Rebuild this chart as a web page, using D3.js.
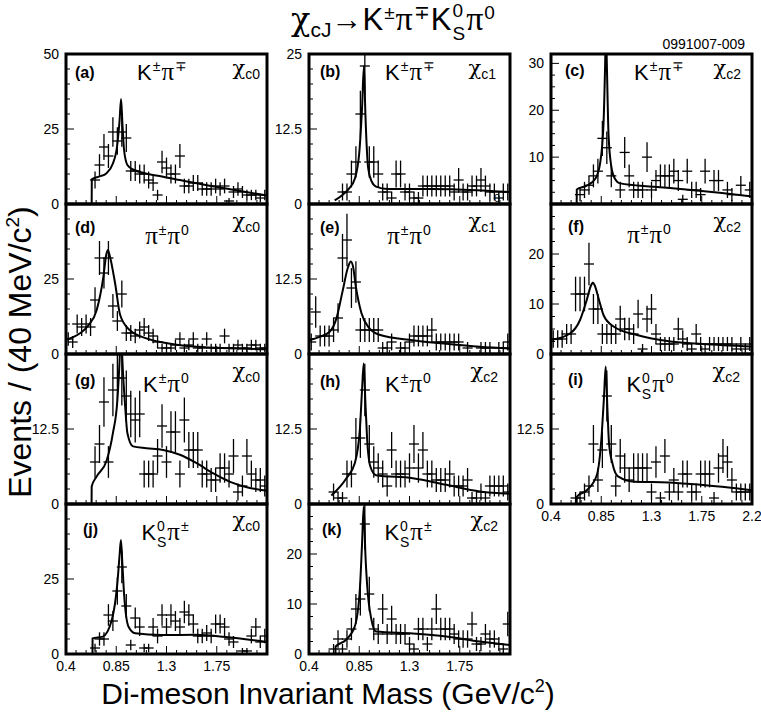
<!DOCTYPE html>
<html>
<head>
<meta charset="utf-8">
<script src="https://cdn.jsdelivr.net/npm/d3@7"></script>
<style>
  body { margin: 0; background: #fff; }
  svg { display: block; font-family: "Liberation Sans", Arial, Helvetica, sans-serif; }
</style>
</head>
<body>
<div id="figure-holder"></div>
<script>
// 40 MeV bin centres (GeV/c^2)
const binCenters = [0.42, 0.46, 0.50, 0.54, 0.58, 0.62, 0.66, 0.70, 0.74, 0.78,
  0.82, 0.86, 0.90, 0.94, 0.98, 1.02, 1.06, 1.10, 1.14, 1.18,
  1.22, 1.26, 1.30, 1.34, 1.38, 1.42, 1.46, 1.50, 1.54, 1.58,
  1.62, 1.66, 1.70, 1.74, 1.78, 1.82, 1.86, 1.90, 1.94, 1.98,
  2.02, 2.06, 2.10, 2.14, 2.18];

// events per bin
const countsA = [0,0,0,0,0,0,8,13,19,16, 24,21,24,22,11,11,10,10,8,7, 3,14,12,10,10,16,6,6,7,7, 5,5,5,6,5,6,1,4,5,4, 3,3,3,2,3];
const countsB = [0,0,0,0,0,0,0,2,2,5, 7,15,23,7,7,5,2,2,1,5, 5,2,2,1,1,3,3,3,3,3, 3,3,2,4,2,2,3,3,4,3, 2,2,1,2,2];
const countsC = [0,0,0,0,0,0,2,3,4,6, 7,14,12,6,0,3,11,6,3,3, 3,10,3,5,6,6,6,7,5,1, 7,3,3,2,7,0,5,5,0,3, 2,0,4,0,3];
const countsD = [5,4,10,9,10,9,18,32,27,32, 16,11,20,7,7,6,8,9,7,6, 4,2,2,2,3,5,2,3,5,2, 2,5,2,2,2,6,2,2,3,2, 2,3,3,2,2];
const countsE = [2,7,3,3,3,4,6,16,19,11, 12,4,4,4,4,4,1,1,2,0, 1,1,2,3,3,3,3,4,2,2, 2,2,2,2,0,1,0,0,1,1, 1,0,1,1,2];
const countsF = [3,3,3,4,4,12,12,12,18,9, 9,4,4,4,4,7,5,5,4,8, 1,7,9,4,2,2,2,2,5,3, 2,1,4,2,1,2,2,2,2,2, 2,1,2,1,2];
const countsG = [0,0,0,0,0,0,7,10,17,7, 19,21,21,18,15,14,15,5,5,5, 8,13,7,12,12,5,14,9,9,9, 5,5,4,4,6,6,5,8,2,3, 8,5,4,4,3];
const countsH = [0,0,0,0,0,2,1,1,5,5, 11,11,19,10,7,6,5,3,9,5, 5,5,6,10,6,9,5,5,4,4, 4,5,3,3,3,4,1,1,2,1, 3,3,3,3,2];
const countsI = [0,0,0,0,0,1,1,2,3,10, 4,9,18,10,3,8,6,4,6,6, 6,6,2,7,1,8,2,4,2,5, 5,2,2,5,5,5,1,6,8,7, 4,2,2,2,2];
const countsJ = [0,0,0,0,0,0,2,5,5,13, 11,21,29,16,3,12,9,2,2,9, 6,13,9,13,11,9,14,13,10,6, 6,7,6,10,10,9,5,4,0,1, 1,6,9,4,6];
const countsK = [0,0,0,0,0,1,3,1,3,5, 9,11,26,12,5,4,9,4,7,4, 4,4,2,1,5,5,2,5,9,5, 5,5,4,3,3,3,6,2,2,4, 3,3,2,1,6];

// fitted curves, [mass, events]
const fitA = [[0.63,0],[0.631,8.2],[0.70,9.2],[0.76,10.2],[0.82,13.5],[0.86,20],[0.88,28],[0.893,35],[0.905,27],[0.92,18],[0.95,13],[1.0,11.5],[1.27,9.1],[1.42,8],[1.57,6.9],[1.87,4.9],[2.2,2.8]];
const fitB = [[0.63,0.6],[0.70,1.5],[0.76,2.6],[0.81,4.2],[0.85,8.5],[0.875,16],[0.892,23],[0.905,15],[0.93,6],[0.96,3.8],[1.0,2.9],[1.1,2.5],[1.5,2.5],[1.9,2.3],[2.2,2.0]];
const fitC = [[0.63,0],[0.631,3.1],[0.72,3.9],[0.80,5.5],[0.84,8.7],[0.87,17],[0.885,30],[0.892,38],[0.90,30],[0.915,15],[0.94,8],[0.97,5.5],[1.02,4.4],[1.32,3.7],[1.61,3.1],[1.91,2.4],[2.2,1.6]];
const fitD = [[0.4,4.7],[0.525,6.9],[0.6,9.5],[0.675,14.7],[0.735,25.8],[0.76,33],[0.775,34.7],[0.79,33],[0.84,23.5],[0.885,13],[0.97,8],[1.12,5.2],[1.27,3.8],[1.57,2.4],[2.2,1.6]];
const fitE = [[0.4,2.3],[0.5,2.9],[0.585,3.7],[0.645,5.9],[0.7,10.4],[0.75,14.5],[0.775,15.4],[0.795,14.5],[0.82,11.2],[0.87,6.8],[0.94,4.3],[1.03,3.2],[1.33,2.3],[1.63,1.7],[1.93,1.2],[2.2,0.9]];
const fitF = [[0.4,2.8],[0.57,4.1],[0.66,6.8],[0.72,10.8],[0.76,13.8],[0.775,14.3],[0.79,13.8],[0.83,10.8],[0.87,7.8],[0.96,5.5],[1.17,3.8],[1.47,2.5],[1.76,2.0],[2.2,1.5]];
const fitG = [[0.629,0],[0.63,2.9],[0.675,4.6],[0.765,7.3],[0.82,11.8],[0.86,17.3],[0.88,24],[0.893,30],[0.905,24],[0.93,16.2],[0.95,11.8],[1.0,9.6],[1.12,9.3],[1.27,9],[1.42,8.2],[1.57,6.8],[1.72,5.1],[1.87,3.7],[2.02,2.8],[2.2,2.2]];
const fitH = [[0.6,1.4],[0.735,4.3],[0.81,6.8],[0.855,12.3],[0.875,19],[0.89,23.4],[0.905,17],[0.92,11],[0.95,6.2],[1.0,4.8],[1.33,4.3],[1.63,3.2],[1.93,2.1],[2.2,1.7]];
const fitI = [[0.63,0],[0.631,1.2],[0.72,2.3],[0.81,4.8],[0.855,11.8],[0.875,18],[0.89,22.9],[0.905,16],[0.92,10],[0.95,6.8],[1.0,4.6],[1.15,3.7],[1.45,3.6],[1.74,3.2],[2.2,2.3]];
const fitJ = [[0.637,0],[0.638,5.2],[0.73,5.8],[0.81,11.3],[0.86,23.6],[0.88,33],[0.892,38],[0.905,30],[0.92,20],[0.96,9.1],[1.02,6.9],[1.25,6.3],[1.55,6.4],[1.85,5.6],[2.2,4.0]];
const fitK = [[0.637,0],[0.638,1.5],[0.73,2.8],[0.81,5.5],[0.855,12.8],[0.875,22],[0.89,29.5],[0.905,20],[0.92,14],[0.96,6.8],[1.0,4.5],[1.33,4.1],[1.63,3.5],[1.93,2.5],[2.2,1.8]];

// axis labels
const massTicks = [0.4, 0.85, 1.3, 1.75, 2.2];
const yLabelsA = [0, 25, 50], yLabelsB = [0, 12.5, 25], yLabelsC = [10, 20, 30];
const yLabelsD = [0, 25], yLabelsE = [0, 12.5], yLabelsF = [0, 10, 20];
const yLabelsG = [0, 12.5], yLabelsH = [0, 12.5], yLabelsI = [0, 12.5];
const yLabelsJ = [0, 25], yLabelsK = [0, 10, 20];

const W = 761, H = 719;
const colLeft = [66, 309, 551], panelW = 201;
const rowTop = [54, 204, 354, 504], panelH = 150;
const SERIF = '"Liberation Serif", "DejaVu Serif", serif';
const CHI = '"DejaVu Serif", serif';

const svg = d3.select('#figure-holder').append('svg')
  .attr('width', W).attr('height', H);

// text built from pieces with super/subscripts
function richText(g, x, y, segs, anchor) {
  const t = g.append('text').attr('x', x).attr('y', y)
    .attr('text-anchor', anchor || 'start').style('fill', '#000');
  let cur = 0;
  segs.forEach(s => {
    const off = s.off || 0;
    const ts = t.append('tspan').attr('dy', off - cur).text(s.t)
      .style('font-size', s.size + 'px');
    if (s.font) ts.style('font-family', s.font);
    if (s.dx) ts.attr('dx', s.dx);
    cur = off;
  });
  return t;
}

const K = {t: 'K', size: 22};
const PI = {t: 'π', size: 25, font: SERIF, dx: 1};
const sup = (c) => ({t: c, size: 14, off: -9, dx: 1});
const subS = {t: 'S', size: 14, off: 7, dx: -8};
const modes = {
  Kpi: [K, sup('±'), PI, sup('∓')],
  pipi0: [{t: 'π', size: 25, font: SERIF}, sup('±'), PI, sup('0')],
  Kpi0: [K, sup('±'), PI, sup('0')],
  KSpi0: [K, sup('0'), subS, PI, sup('0')],
  KSpi: [K, sup('0'), subS, PI, sup('±')]
};

const panels = [
  {tag: '(a)', col: 0, row: 0, counts: countsA, fit: fitA, yMax: 50, yLabels: yLabelsA, minor: 5, mode: 'Kpi', chi: '0', lab: [9, 24], md: [96, 26], ch: [7, 21]},
  {tag: '(b)', col: 1, row: 0, counts: countsB, fit: fitB, yMax: 25, yLabels: yLabelsB, minor: 2.5, mode: 'Kpi', chi: '1', lab: [11, 23], md: [101, 26], ch: [14, 21]},
  {tag: '(c)', col: 2, row: 0, counts: countsC, fit: fitC, yMax: 32, yLabels: yLabelsC, minor: 2.5, mode: 'Kpi', chi: '2', lab: [14, 22], md: [108, 26], ch: [11, 21]},
  {tag: '(d)', col: 0, row: 1, counts: countsD, fit: fitD, yMax: 50, yLabels: yLabelsD, minor: 5, mode: 'pipi0', chi: '0', lab: [9, 29], md: [101, 40], ch: [7, 24]},
  {tag: '(e)', col: 1, row: 1, counts: countsE, fit: fitE, yMax: 25, yLabels: yLabelsE, minor: 2.5, mode: 'pipi0', chi: '1', lab: [11, 29], md: [100, 40], ch: [14, 24]},
  {tag: '(f)', col: 2, row: 1, counts: countsF, fit: fitF, yMax: 30, yLabels: yLabelsF, minor: 2.5, mode: 'pipi0', chi: '2', lab: [17, 28], md: [98, 39], ch: [11, 24]},
  {tag: '(g)', col: 0, row: 2, counts: countsG, fit: fitG, yMax: 25, yLabels: yLabelsG, minor: 2.5, mode: 'Kpi0', chi: '0', lab: [9, 32], md: [100, 38], ch: [7, 24]},
  {tag: '(h)', col: 1, row: 2, counts: countsH, fit: fitH, yMax: 25, yLabels: yLabelsH, minor: 2.5, mode: 'Kpi0', chi: '2', lab: [11, 33], md: [99, 38], ch: [12, 24]},
  {tag: '(i)', col: 2, row: 2, counts: countsI, fit: fitI, yMax: 25, yLabels: yLabelsI, minor: 2.5, mode: 'KSpi0', chi: '2', lab: [17, 31], md: [99, 38], ch: [12, 24]},
  {tag: '(j)', col: 0, row: 3, counts: countsJ, fit: fitJ, yMax: 50, yLabels: yLabelsJ, minor: 5, mode: 'KSpi', chi: '0', lab: [17, 31], md: [99, 36], ch: [7, 23]},
  {tag: '(k)', col: 1, row: 3, counts: countsK, fit: fitK, yMax: 30, yLabels: yLabelsK, minor: 2.5, mode: 'KSpi', chi: '2', lab: [13, 31], md: [99, 36], ch: [12, 23]}
];

// which panels carry mass tick labels
const xLabelled = {'(i)': massTicks, '(j)': massTicks.slice(0, 4), '(k)': massTicks.slice(0, 4)};

panels.forEach((p, k) => {
  const L = colLeft[p.col], T = rowTop[p.row], R = L + panelW, B = T + panelH;
  const x = d3.scaleLinear().domain([0.4, 2.2]).range([L, R]);
  const y = d3.scaleLinear().domain([0, p.yMax]).range([B, T]);
  const g = svg.append('g');

  g.append('clipPath').attr('id', 'clip' + k)
    .append('rect').attr('x', L).attr('y', T).attr('width', panelW).attr('height', panelH);

  // ticks, pointing inward
  const ticks = g.append('g').attr('stroke', '#000').attr('stroke-width', 1);
  d3.range(0.4, 2.2001, 0.09).forEach(v => {
    const major = massTicks.some(m => Math.abs(m - v) < 1e-6);
    ticks.append('line').attr('x1', x(v)).attr('x2', x(v))
      .attr('y1', B).attr('y2', B - (major ? 8 : 4));
  });
  d3.range(0, p.yMax + 1e-6, p.minor).forEach(v => {
    const major = p.yLabels.some(m => Math.abs(m - v) < 1e-6);
    ticks.append('line').attr('x1', L).attr('x2', L + (major ? 8 : 4))
      .attr('y1', y(v)).attr('y2', y(v));
  });

  // y tick labels
  p.yLabels.forEach(v => {
    g.append('text').attr('x', L - 7).attr('y', y(v)).attr('dy', '0.36em')
      .attr('text-anchor', 'end').style('font-size', '14px').text(v);
  });
  // x tick labels
  (xLabelled[p.tag] || []).forEach(v => {
    g.append('text').attr('x', x(v)).attr('y', B + 17)
      .attr('text-anchor', 'middle').style('font-size', '14px').text(v);
  });

  const plot = g.append('g').attr('clip-path', `url(#clip${k})`);

  // data points with error bars
  const pts = binCenters.map((m, i) => ({m, n: p.counts[i]})).filter(d => d.n > 0);
  const cross = plot.append('g').attr('stroke', '#000').attr('stroke-width', 1.3);
  pts.forEach(d => {
    const e = Math.sqrt(d.n);
    cross.append('line').attr('x1', x(d.m)).attr('x2', x(d.m))
      .attr('y1', y(d.n - e)).attr('y2', y(d.n + e));
    cross.append('line').attr('x1', x(d.m - 0.045)).attr('x2', x(d.m + 0.045))
      .attr('y1', y(d.n)).attr('y2', y(d.n));
  });

  // fit
  plot.append('path').datum(p.fit)
    .attr('d', d3.line().x(d => x(d[0])).y(d => y(d[1])).curve(d3.curveMonotoneX))
    .attr('fill', 'none').attr('stroke', '#000').attr('stroke-width', 2);

  // frame
  g.append('rect').attr('x', L).attr('y', T).attr('width', panelW).attr('height', panelH)
    .attr('fill', 'none').attr('stroke', '#000').attr('stroke-width', 3);

  // labels
  g.append('text').attr('x', L + p.lab[0]).attr('y', T + p.lab[1])
    .style('font-size', '16px').style('font-weight', 'bold').text(p.tag);
  richText(g, L + p.md[0], T + p.md[1], modes[p.mode], 'middle');
  richText(g, R - p.ch[0], T + p.ch[1],
    [{t: 'χ', size: 21, font: CHI}, {t: 'c' + p.chi, size: 14, off: 4}], 'end');
});

// stray "0" printed near the lower right of panel (b)
svg.append('text').attr('x', 497).attr('y', 202).attr('text-anchor', 'middle')
  .style('font-size', '11px').text('0');

// title
richText(svg, 393, 30, [
  {t: 'χ', size: 32, font: CHI},
  {t: 'cJ', size: 21, off: 7},
  {t: '→', size: 31, off: 0},
  {t: 'K', size: 31},
  {t: '±', size: 19, off: -11, dx: 1},
  {t: 'π', size: 34, font: SERIF, off: 0, dx: 1},
  {t: '∓', size: 19, off: -11, dx: 1},
  {t: 'K', size: 31, off: 0, dx: 1},
  {t: '0', size: 19, off: -13, dx: 1},
  {t: 'S', size: 19, off: 10, dx: -10.5},
  {t: 'π', size: 34, font: SERIF, off: 0, dx: 1},
  {t: '0', size: 19, off: -11, dx: 1}
], 'middle');

svg.append('text').attr('x', 745).attr('y', 49).attr('text-anchor', 'end')
  .style('font-size', '14px').text('0991007-009');

// axis titles
richText(svg, 328, 704, [
  {t: 'Di-meson Invariant Mass (GeV/c', size: 30},
  {t: '2', size: 18, off: -12},
  {t: ')', size: 30, off: 0}
], 'middle');

richText(svg.append('g').attr('transform', 'translate(31,352) rotate(-90)'), 0, 0, [
  {t: 'Events / (40 MeV/c', size: 32},
  {t: '2', size: 19, off: -12},
  {t: ')', size: 32, off: 0}
], 'middle');
</script>
</body>
</html>
